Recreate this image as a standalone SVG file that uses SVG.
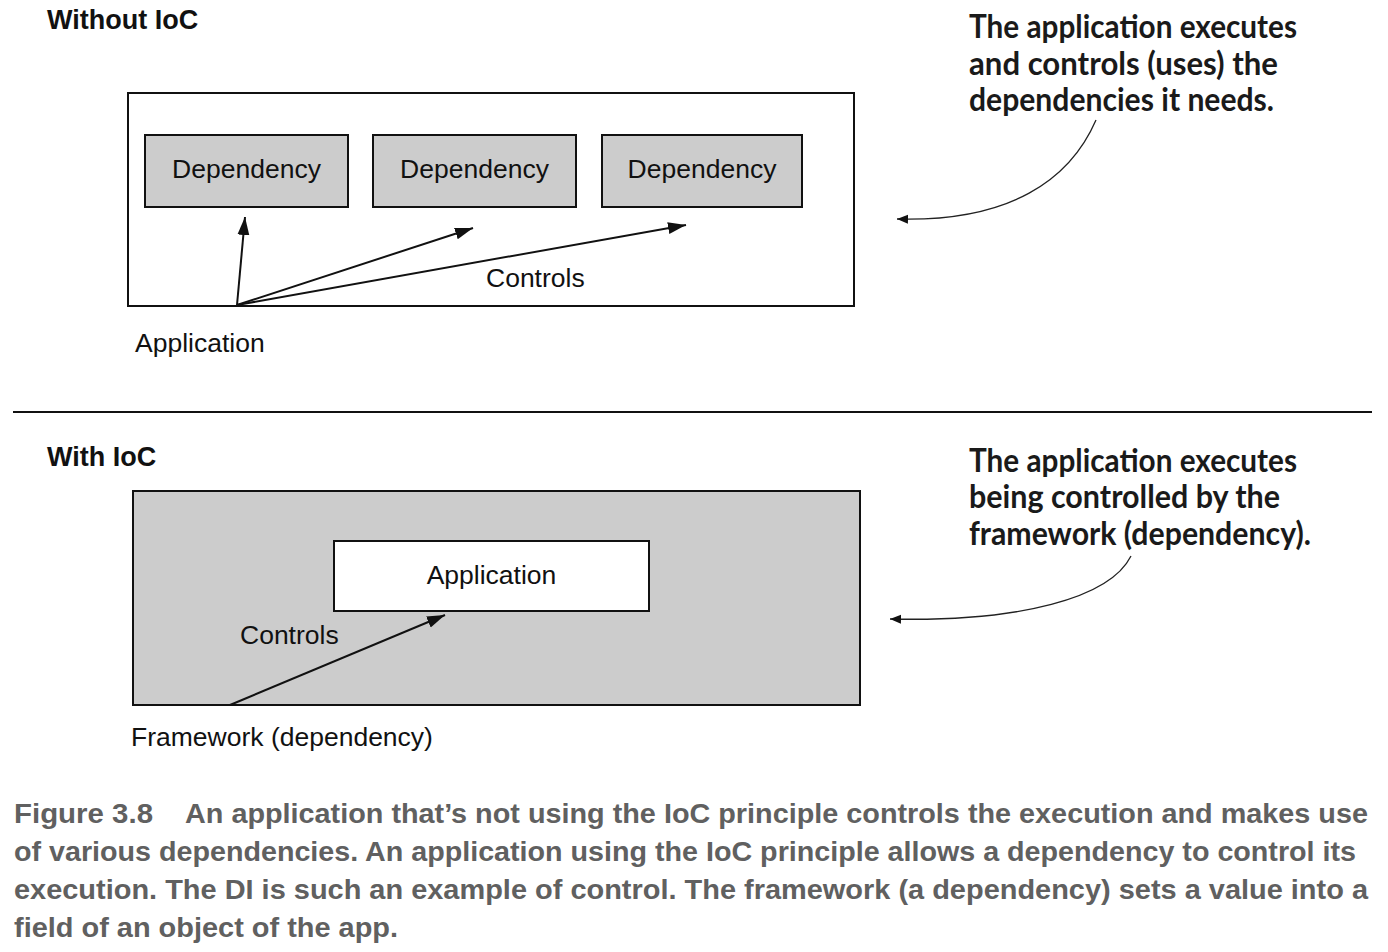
<svg xmlns="http://www.w3.org/2000/svg" width="1388" height="952" viewBox="0 0 1388 952">
<style>
.box{stroke:#111;stroke-width:2}
.dep{fill:#cccccc}
.lbl{font-family:"Liberation Sans",Arial,sans-serif;font-size:26.5px;fill:#111}
.head{font-family:"Liberation Sans",Arial,sans-serif;font-size:27px;font-weight:bold;fill:#111}
.note{font-family:Lato,"Noto Sans",sans-serif;font-size:32px;font-weight:bold;fill:#1a1a1a}
.cap{font-family:"Liberation Sans",Arial,sans-serif;font-size:28px;font-weight:bold;fill:#606060}
.conn{stroke:#111;stroke-width:2;fill:none}
.curve{stroke:#222;stroke-width:1.3;fill:none}
</style>
<defs>
<marker id="ah" markerUnits="userSpaceOnUse" markerWidth="20" markerHeight="14" refX="18" refY="6" orient="auto">
<path d="M0,0 L18,6 L0,12 z" fill="#111"/>
</marker>
<marker id="ahs" markerUnits="userSpaceOnUse" markerWidth="12" markerHeight="10" refX="11" refY="4.5" orient="auto">
<path d="M0,0 L11,4.5 L0,9 z" fill="#111"/>
</marker>
</defs>
<rect width="1388" height="952" fill="#fff"/>

<g id="without-ioc">
<text class="head" x="47" y="29">Without IoC</text>
<rect class="box" x="128" y="93" width="726" height="213" fill="#fff"/>
<text class="lbl" x="135" y="352">Application</text>
</g>
<g id="dep1"><rect class="box dep" x="145" y="135" width="203" height="72"/><text class="lbl" x="246.5" y="178" text-anchor="middle">Dependency</text></g>
<g id="dep2"><rect class="box dep" x="373" y="135" width="203" height="72"/><text class="lbl" x="474.5" y="178" text-anchor="middle">Dependency</text></g>
<g id="dep3"><rect class="box dep" x="602" y="135" width="200" height="72"/><text class="lbl" x="702" y="178" text-anchor="middle">Dependency</text></g>

<line x1="13" y1="412" x2="1372" y2="412" stroke="#111" stroke-width="2"/>

<g id="with-ioc">
<text class="head" x="47" y="466">With IoC</text>
<rect class="box dep" x="133" y="491" width="727" height="214"/>
<text class="lbl" x="131" y="746">Framework (dependency)</text>
</g>
<g id="app2"><rect class="box" x="334" y="541" width="315" height="70" fill="#fff"/><text class="lbl" x="491.5" y="584" text-anchor="middle">Application</text></g>

<g id="connectors">
<line class="conn" x1="237" y1="305" x2="245" y2="217" marker-end="url(#ah)"/>
<line class="conn" x1="237" y1="305" x2="473" y2="228" marker-end="url(#ah)"/>
<line class="conn" x1="237" y1="305" x2="686" y2="225" marker-end="url(#ah)"/>
<text class="lbl" x="486" y="287">Controls</text>
<line class="conn" x1="230" y1="705" x2="445" y2="615" marker-end="url(#ah)"/>
<text class="lbl" x="240" y="644">Controls</text>
<path class="curve" d="M1096,120 C1070,180 1010,222 897,219" marker-end="url(#ahs)"/>
<path class="curve" d="M1131,556 C1110,598 1020,622 890,619" marker-end="url(#ahs)"/>
</g>

<g id="note-top">
<text class="note" x="969" y="38" textLength="328" lengthAdjust="spacingAndGlyphs">The application executes</text>
<text class="note" x="969" y="75" textLength="309" lengthAdjust="spacingAndGlyphs">and controls (uses) the</text>
<text class="note" x="969" y="111" textLength="305" lengthAdjust="spacingAndGlyphs">dependencies it needs.</text>
</g>
<g id="note-bottom">
<text class="note" x="969" y="472" textLength="328" lengthAdjust="spacingAndGlyphs">The application executes</text>
<text class="note" x="969" y="508" textLength="311" lengthAdjust="spacingAndGlyphs">being controlled by the</text>
<text class="note" x="969" y="545" textLength="342" lengthAdjust="spacingAndGlyphs">framework (dependency).</text>
</g>

<g id="caption">
<text class="cap" x="14" y="823" textLength="139" lengthAdjust="spacingAndGlyphs">Figure 3.8</text>
<text class="cap" x="185" y="823" textLength="1183" lengthAdjust="spacingAndGlyphs">An application that’s not using the IoC principle controls the execution and makes use</text>
<text class="cap" x="14" y="861" textLength="1342" lengthAdjust="spacingAndGlyphs">of various dependencies. An application using the IoC principle allows a dependency to control its</text>
<text class="cap" x="14" y="899" textLength="1354" lengthAdjust="spacingAndGlyphs">execution. The DI is such an example of control. The framework (a dependency) sets a value into a</text>
<text class="cap" x="14" y="937" textLength="384" lengthAdjust="spacingAndGlyphs">field of an object of the app.</text>
</g>
</svg>
